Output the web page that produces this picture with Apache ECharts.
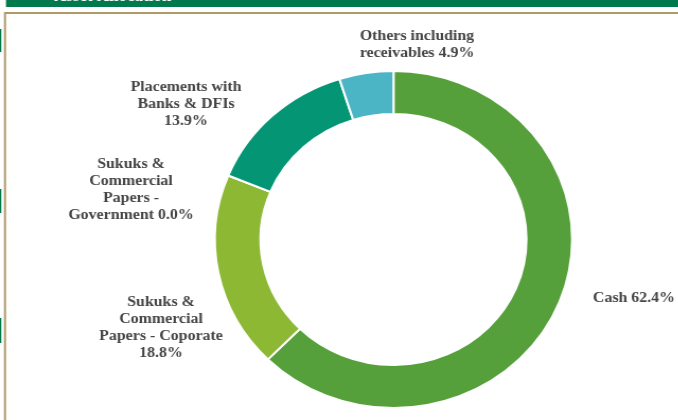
<!DOCTYPE html>
<html>
<head>
<meta charset="utf-8">
<script src="https://cdn.jsdelivr.net/npm/echarts@6/dist/echarts.min.js"></script>
<style>
  html, body { margin: 0; padding: 0; background: #ffffff; overflow: hidden; }
  #wrap { width: 678px; height: 420px; position: relative; overflow: hidden; }
  /* the donut is drawn slightly wider than tall */
  #chart { width: 640px; height: 420px; transform: scaleX(1.06); transform-origin: 0 0; }
</style>
</head>
<body>
<div id="wrap"><div id="chart"></div></div>
<script>
// Asset allocation, clockwise from 12 o'clock
const categories = [
  'Cash',
  'Sukuks &\nCommercial\nPapers - Coporate',
  'Sukuks &\nCommercial\nPapers -\nGovernment',
  'Placements with\nBanks & DFIs',
  'Others including\nreceivables'
];
const shares = [62.4, 18.8, 0.0, 13.9, 4.9];
const colors = ['#55a03b', '#8db834', '#8db834', '#049674', '#4cb5c5'];
// whether the percentage sits on its own line
const pctOnNewLine = [false, true, false, true, false];

const SX = 1.06;            // horizontal stretch applied to the chart box
const sx = v => v / SX;     // screen x -> chart x

// label anchor points (screen px), centred text blocks
const labelAnchors = [
  [634, 298], [161, 328], [131, 190], [186, 104], [417, 45]
];

const chart = echarts.init(document.getElementById('chart'), null, { renderer: 'canvas' });

const GREEN = '#007a4d';
const labelFont = {
  fontFamily: '"Liberation Serif", "DejaVu Serif", serif',
  fontWeight: 'bold',
  fontSize: 15,
  lineHeight: 17,
  color: '#454545'
};

chart.setOption({
  backgroundColor: '#ffffff',
  animation: false,
  graphic: [
    // header band with its title
    { type: 'rect', shape: { x: sx(6), y: 0, width: sx(690), height: 7 }, style: { fill: GREEN } },
    { type: 'text', x: sx(54), y: 4.5, style: {
        text: 'Asset Allocation', fill: '#ffffff',
        font: 'bold 16px "Liberation Serif", serif',
        textVerticalAlign: 'bottom', textAlign: 'left' } },
    // panel frame
    { type: 'rect', shape: { x: sx(5), y: 13, width: sx(700), height: 430 },
      style: { fill: 'none', stroke: '#b09a66', lineWidth: 2 } },
    // small tabs on the left margin
    { type: 'rect', shape: { x: 0, y: 29, width: sx(1.3), height: 23 }, style: { fill: GREEN } },
    { type: 'rect', shape: { x: 0, y: 189, width: sx(1.3), height: 24 }, style: { fill: GREEN } },
    { type: 'rect', shape: { x: 0, y: 318, width: sx(1.3), height: 25 }, style: { fill: GREEN } }
  ],
  series: [{
    type: 'pie',
    center: [sx(393.5), 239.5],
    radius: [125.5, 168.5],
    startAngle: 90,
    clockwise: true,
    avoidLabelOverlap: false,
    itemStyle: { borderColor: '#ffffff', borderWidth: 2 },
    label: Object.assign({
      show: true,
      position: 'outside',
      align: 'center',
      formatter: p => p.name + (pctOnNewLine[p.dataIndex] ? '\n' : ' ') + p.value.toFixed(1) + '%'
    }, labelFont),
    labelLine: { show: false },
    labelLayout: p => ({
      x: sx(labelAnchors[p.dataIndex][0]),
      y: labelAnchors[p.dataIndex][1],
      align: 'center',
      verticalAlign: 'middle'
    }),
    emphasis: { disabled: true },
    data: categories.map((c, i) => ({
      name: c, value: shares[i], itemStyle: { color: colors[i] }
    }))
  }]
});
</script>
</body>
</html>
